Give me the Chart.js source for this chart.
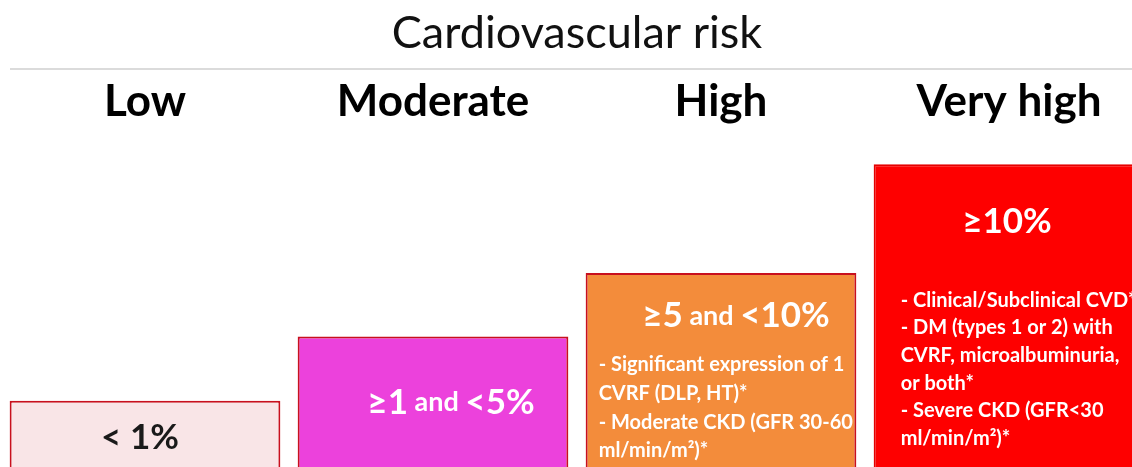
<!DOCTYPE html>
<html>
<head>
<meta charset="utf-8">
<script src="https://cdn.jsdelivr.net/npm/chart.js@4"></script>
<style>
  html, body { margin: 0; padding: 0; background: #fff; overflow: hidden; }
  #wrap { width: 1160px; height: 467px; }
</style>
</head>
<body>
<div id="wrap"><canvas id="myChart"></canvas></div>
<script>
// chart data
const categories = ['Low', 'Moderate', 'High', 'Very high'];
const riskLevel = [1, 1.97, 2.93, 4.57];
const headlines = ['< 1%', '≥1 and <5%', '≥5 and <10%', '≥10%'];
const details = [
    [],
    [],
    ['- Significant expression of 1', 'CVRF (DLP, HT)*', '- Moderate CKD (GFR 30-60', 'ml/min/m²)*'],
    ['- Clinical/Subclinical CVD*', '- DM (types 1 or 2) with', 'CVRF, microalbuminuria,', 'or both*', '- Severe CKD (GFR<30', 'ml/min/m²)*']
];

const fillColors = ['#f9e5e7', '#ec41dc', '#f38c3b', '#fe0000'];
const edgeColors = ['#c8101e', '#c8101e', '#c8101e', '#e40000'];
const textColors = ['#1a1a1a', '#ffffff', '#ffffff', '#ffffff'];

// where the text sits inside each box
const headPos = [{dx: -5, dy: 37}, {dx: 18, dy: 66}, {dx: 15, dy: 43}, {dx: -2, dy: 57}];
const detailPos = [null, null, {dx: 13, dy: 92, step: 28.7}, {dx: 27, dy: 136, step: 27.6}];

const FONT = 'Lato, "Open Sans", sans-serif';

const boxText = {
    id: 'boxText',
    afterDatasetsDraw(chart) {
        const ctx = chart.ctx;
        const meta = chart.getDatasetMeta(0);
        meta.data.forEach((bar, i) => {
            const left = bar.x - bar.width / 2;
            ctx.save();
            ctx.fillStyle = textColors[i];
            ctx.textBaseline = 'middle';

            // headline, "and" drawn smaller
            const parts = headlines[i].split(' and ');
            const segs = [];
            parts.forEach((p, k) => {
                if (k > 0) segs.push({t: ' and ', size: 27});
                segs.push({t: p, size: 35});
            });
            let total = 0;
            segs.forEach(s => {
                ctx.font = 'bold ' + s.size + 'px ' + FONT;
                s.w = ctx.measureText(s.t).width;
                total += s.w;
            });
            let x = bar.x + headPos[i].dx - total / 2;
            const y = bar.y + headPos[i].dy;
            ctx.textAlign = 'left';
            segs.forEach(s => {
                ctx.font = 'bold ' + s.size + 'px ' + FONT;
                ctx.fillText(s.t, x, y);
                x += s.w;
            });

            // detail lines
            const dp = detailPos[i];
            if (dp) {
                ctx.font = 'bold 20px ' + FONT;
                details[i].forEach((line, k) => {
                    ctx.fillText(line, left + dp.dx, bar.y + dp.dy + k * dp.step);
                });
            }
            ctx.restore();
        });
    }
};

const titleRule = {
    id: 'titleRule',
    afterDraw(chart) {
        const ctx = chart.ctx;
        ctx.save();
        ctx.strokeStyle = '#cfcfcf';
        ctx.lineWidth = 1.5;
        ctx.beginPath();
        ctx.moveTo(10, 69);
        ctx.lineTo(1160, 69);
        ctx.stroke();
        ctx.restore();
    }
};

new Chart(document.getElementById('myChart'), {
    type: 'bar',
    data: {
        labels: categories,
        datasets: [
            {
                data: riskLevel,
                backgroundColor: fillColors,
                borderColor: edgeColors,
                borderWidth: 2,
                borderSkipped: 'bottom',
                barPercentage: 0.94,
                categoryPercentage: 1
            }
        ]
    },
    options: {
        responsive: true,
        maintainAspectRatio: false,
        animation: false,
        layout: {
            padding: {left: 1, right: 7, top: 0, bottom: 0}
        },
        plugins: {
            legend: {display: false},
            tooltip: {enabled: false},
            title: {
                display: true,
                text: 'Cardiovascular risk',
                color: '#111',
                font: {family: FONT, size: 45, weight: 'normal'},
                padding: {top: 6, bottom: 15}
            }
        },
        scales: {
            x: {
                position: 'top',
                grid: {display: false},
                border: {display: false},
                ticks: {
                    color: '#000',
                    font: {family: FONT, size: 44, weight: 'bold'},
                    padding: 0
                }
            },
            y: {
                display: false,
                min: 0,
                max: 5
            }
        }
    },
    plugins: [boxText, titleRule]
});
</script>
</body>
</html>
